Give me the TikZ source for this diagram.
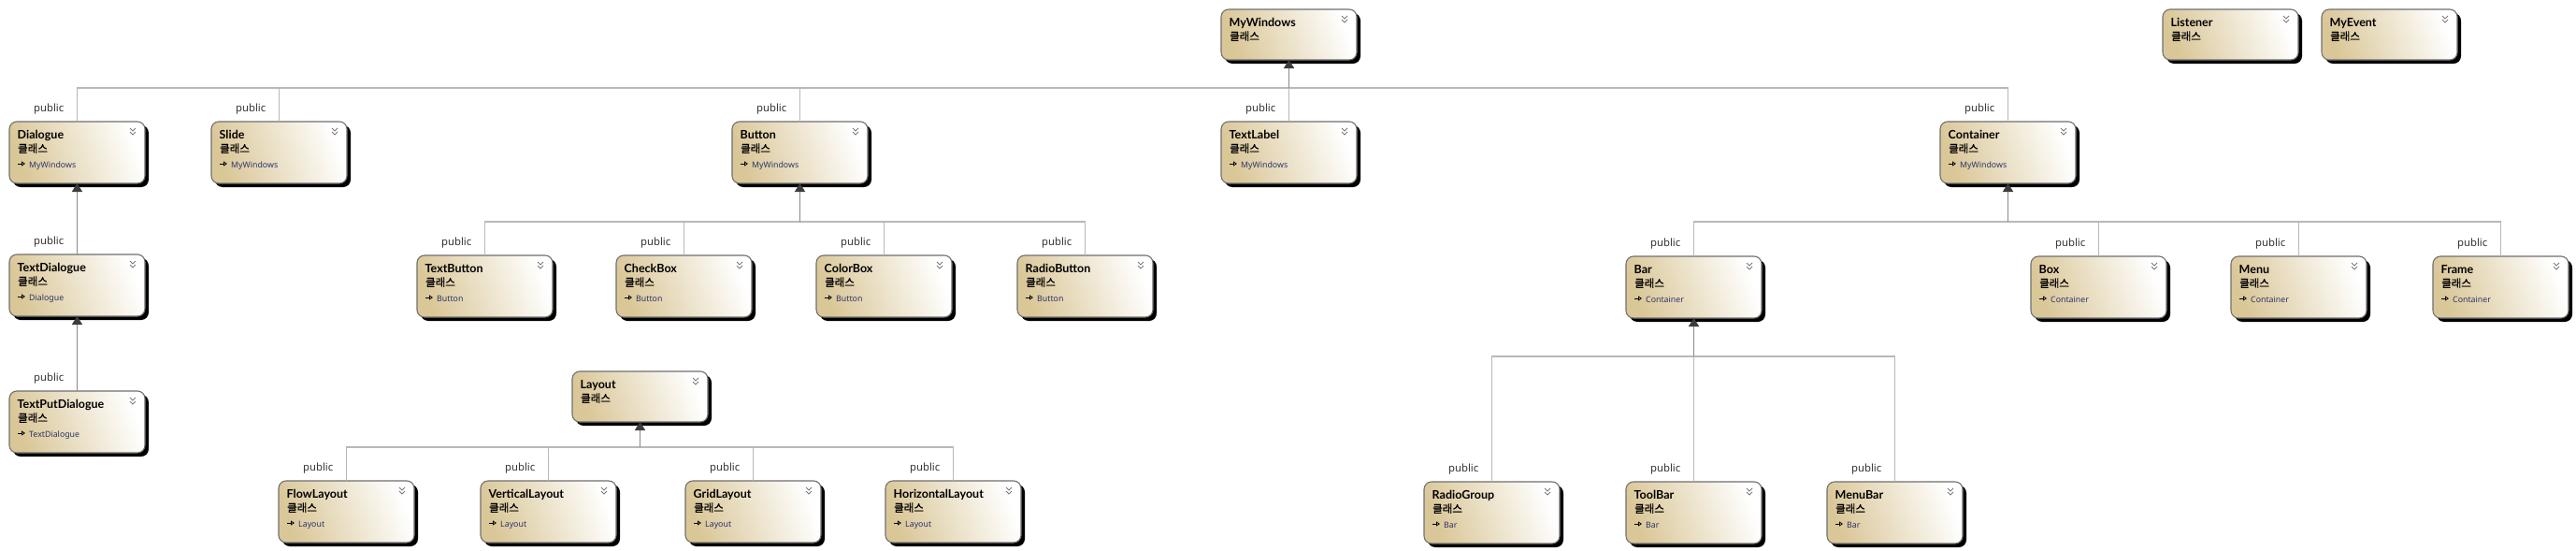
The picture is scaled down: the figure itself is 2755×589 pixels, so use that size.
\documentclass[tikz,border=0pt]{standalone}
\usepackage{fontspec}
\setmainfont{Noto Sans}
\newfontfamily\ttlfont{Lato}
\newfontfamily\krfont{Noto Sans CJK KR}[FakeBold=0.8]
\usetikzlibrary{shadows,arrows.meta}
\definecolor{boxtan}{HTML}{DAC798}
\definecolor{boxline}{HTML}{707070}
\definecolor{branchc}{HTML}{B8B8B8}
\definecolor{trunkc}{HTML}{8A8A8A}
\definecolor{arrowc}{HTML}{3C3C3C}
\definecolor{pubc}{HTML}{3A3434}
\definecolor{parc}{HTML}{2C3468}
\definecolor{chevc}{HTML}{7A7A7A}
\tikzset{
  clsbox/.style={draw=boxline, line width=1.1pt, rounded corners=8pt,
    left color=boxtan, right color=white, shading angle=110,
    minimum width=145pt, minimum height=66pt, anchor=north west,
    inner sep=0pt, outer sep=0pt,
    general shadow={fill=black, shadow xshift=4pt, shadow yshift=-4pt}},
  shortbox/.style={clsbox, minimum height=54pt},
  ttl/.style={anchor=base west, inner sep=0pt, text=black,
    font=\fontsize{12.5}{14}\selectfont\ttlfont\bfseries},
  kind/.style={anchor=base west, inner sep=0pt, text=black,
    font=\fontsize{11.5}{13}\selectfont\krfont},
  par/.style={anchor=base west, inner sep=0pt, text=parc,
    font=\fontsize{8.8}{10}\selectfont},
  pub/.style={anchor=base east, inner sep=0pt, text=pubc,
    font=\fontsize{11.3}{13}\selectfont},
  chev/.style={draw=chevc, line width=1pt},
  inh/.style={draw=black, line width=0.8pt, -{Triangle[open,length=4pt,width=5pt]}},
  branch/.style={draw=branchc, line width=1.3pt},
  trunk/.style={draw=trunkc, line width=1.6pt,
    -{Triangle[length=9pt,width=11pt,fill=arrowc,color=arrowc]}}
}
\newcommand\clsdraw[5]{% id, style, x, y, title
  \node[#2] (#1) at (#3,#4) {};
  \node[ttl] (#1-title) at ([shift={(8.5pt,-18pt)}]#1.north west) {#5};
  \node[kind] (#1-kind) at ([shift={(9pt,-33pt)}]#1.north west) {클래스};
  \draw[chev] ([shift={(-16pt,-7pt)}]#1.north east) -- ++(3pt,-3pt) -- ++(3pt,3pt);
  \draw[chev] ([shift={(-16pt,-11pt)}]#1.north east) -- ++(3pt,-3pt) -- ++(3pt,3pt);
}
\newcommand\clsparent[2]{% id, parent name
  \draw[inh] ([shift={(9pt,-45pt)}]#1.north west) -- ++(8pt,0pt);
  \node[par] (#1-parent) at ([shift={(21pt,-49pt)}]#1.north west) {#2};
}
\newcommand\publabel[1]{%
  \node[pub] (#1-pub) at ([shift={(-14pt,11pt)}]#1.north) {public};
}
\begin{document}
\begin{tikzpicture}[x=1pt,y=-1pt]
\useasboundingbox[fill=white] (0,0) rectangle (2755,589);
% top row
\clsdraw{MyWindows}{shortbox}{1306}{10}{MyWindows}
\clsdraw{Listener}{shortbox}{2313}{10}{Listener}
\clsdraw{MyEvent}{shortbox}{2483}{10}{MyEvent}
% second row
\clsdraw{Dialogue}{clsbox}{10}{130}{Dialogue}\clsparent{Dialogue}{MyWindows}
\clsdraw{Slide}{clsbox}{226}{130}{Slide}\clsparent{Slide}{MyWindows}
\clsdraw{Button}{clsbox}{783}{130}{Button}\clsparent{Button}{MyWindows}
\clsdraw{TextLabel}{clsbox}{1306}{130}{TextLabel}\clsparent{TextLabel}{MyWindows}
\clsdraw{Container}{clsbox}{2075}{130}{Container}\clsparent{Container}{MyWindows}
% third row
\clsdraw{TextDialogue}{clsbox}{10}{272}{TextDialogue}\clsparent{TextDialogue}{Dialogue}
\clsdraw{TextButton}{clsbox}{446}{273}{TextButton}\clsparent{TextButton}{Button}
\clsdraw{CheckBox}{clsbox}{659}{273}{CheckBox}\clsparent{CheckBox}{Button}
\clsdraw{ColorBox}{clsbox}{873}{273}{ColorBox}\clsparent{ColorBox}{Button}
\clsdraw{RadioButton}{clsbox}{1088}{273}{RadioButton}\clsparent{RadioButton}{Button}
\clsdraw{Bar}{clsbox}{1739}{274}{Bar}\clsparent{Bar}{Container}
\clsdraw{Box}{clsbox}{2172}{274}{Box}\clsparent{Box}{Container}
\clsdraw{Menu}{clsbox}{2386}{274}{Menu}\clsparent{Menu}{Container}
\clsdraw{Frame}{clsbox}{2602}{274}{Frame}\clsparent{Frame}{Container}
% fourth row
\clsdraw{TextPutDialogue}{clsbox}{10}{418}{TextPutDialogue}\clsparent{TextPutDialogue}{TextDialogue}
\clsdraw{Layout}{shortbox}{612}{397}{Layout}
% bottom row
\clsdraw{FlowLayout}{clsbox}{298}{514}{FlowLayout}\clsparent{FlowLayout}{Layout}
\clsdraw{VerticalLayout}{clsbox}{514}{514}{VerticalLayout}\clsparent{VerticalLayout}{Layout}
\clsdraw{GridLayout}{clsbox}{733}{514}{GridLayout}\clsparent{GridLayout}{Layout}
\clsdraw{HorizontalLayout}{clsbox}{947}{514}{HorizontalLayout}\clsparent{HorizontalLayout}{Layout}
\clsdraw{RadioGroup}{clsbox}{1523}{515}{RadioGroup}\clsparent{RadioGroup}{Bar}
\clsdraw{ToolBar}{clsbox}{1739}{515}{ToolBar}\clsparent{ToolBar}{Bar}
\clsdraw{MenuBar}{clsbox}{1954}{515}{MenuBar}\clsparent{MenuBar}{Bar}
% bus coordinates
\path (MyWindows.south) ++(0pt,-30pt) coordinate (mwbus);
\path (Button.south) ++(0pt,-41pt) coordinate (btbus);
\path (Container.south) ++(0pt,-41pt) coordinate (ctbus);
\path (Bar.south) ++(0pt,-41pt) coordinate (barbus);
\path (Layout.south) ++(0pt,-27pt) coordinate (lybus);
% MyWindows children
\foreach \c in {Dialogue,Slide,Button,Container}{\draw[branch] (\c.north) |- (mwbus);}
\draw[branch] (TextLabel.north) -- (mwbus);
\draw[trunk] (mwbus) -- (MyWindows.south);
% Dialogue chain
\draw[trunk] (TextDialogue.north) -- (Dialogue.south);
\draw[trunk] (TextPutDialogue.north) -- (TextDialogue.south);
% Button children
\foreach \c in {TextButton,CheckBox,ColorBox,RadioButton}{\draw[branch] (\c.north) |- (btbus);}
\draw[trunk] (btbus) -- (Button.south);
% Container children
\foreach \c in {Bar,Box,Menu,Frame}{\draw[branch] (\c.north) |- (ctbus);}
\draw[trunk] (ctbus) -- (Container.south);
% Bar children
\foreach \c in {RadioGroup,MenuBar}{\draw[branch] (\c.north) |- (barbus);}
\draw[branch] (ToolBar.north) -- (barbus);
\draw[trunk] (barbus) -- (Bar.south);
% Layout children
\foreach \c in {FlowLayout,VerticalLayout,GridLayout,HorizontalLayout}{\draw[branch] (\c.north) |- (lybus);}
\draw[trunk] (lybus) -- (Layout.south);
% public labels
\foreach \c in {Dialogue,Slide,Button,TextLabel,Container,TextDialogue,TextPutDialogue,
  TextButton,CheckBox,ColorBox,RadioButton,Bar,Box,Menu,Frame,
  FlowLayout,VerticalLayout,GridLayout,HorizontalLayout,RadioGroup,ToolBar,MenuBar}{\publabel{\c}}
\end{tikzpicture}
\end{document}
